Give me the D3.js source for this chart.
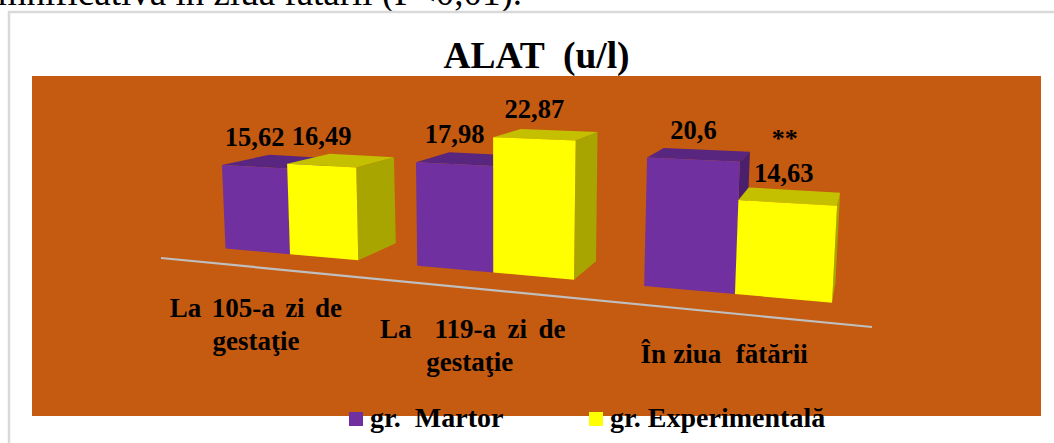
<!DOCTYPE html>
<html lang="ro">
<head>
<meta charset="utf-8">
<title>ALAT (u/l)</title>
<script src="https://cdn.jsdelivr.net/npm/d3@7/dist/d3.min.js"></script>
<style>
  html, body { margin: 0; padding: 0; background: #fff; overflow: hidden; }
  svg { display: block; font-family: "Liberation Serif", serif; }
  text { white-space: pre; fill: #000; }
</style>
</head>
<body>
<svg id="chart" width="1054" height="443"></svg>
<script>
// Values read per gestation moment, one array per group.
const categories = ["La 105-a zi de", "La  119-a zi de", "În ziua  fătării"];
const categoryLines = [["La 105-a zi de", "gestaţie"], ["La  119-a zi de", "gestaţie"], ["În ziua  fătării"]];
const seriesNames = ["gr.  Martor", "gr. Experimentală"];
const martor = [15.62, 17.98, 20.6];
const experimentala = [16.49, 22.87, 14.63];
const valueLabels = [["15,62", "17,98", "20,6"], ["16,49", "22,87", "14,63"]];
const significance = ["", "", "**"];

const frontColors = ["#7030A0", "#FFFF00"];
const topColors = ["#58257F", "#C4C000"];
const sideColors = ["#4A1F6C", "#A8A400"];
const categoryWordSpacing = [3.7, 4.75, 0.5];

const svg = d3.select("#chart");

// Running sentence above the chart frame, cut off by the page edge.
svg.append("text").attr("x", 522).attr("y", 5).attr("text-anchor", "end")
  .attr("font-size", 37).text("semnificativă în ziua fătării (P<0,01).");

// Chart frame and plot wall.
svg.append("path").attr("d", "M9,443V12H1054").attr("fill", "#fff")
  .attr("stroke", "#D9D9D9").attr("stroke-width", 2.5);
svg.append("rect").attr("x", 32).attr("y", 76).attr("width", 1009).attr("height", 340)
  .attr("fill", "#C55A11");

svg.append("text").attr("x", 536.5).attr("y", 68).attr("text-anchor", "middle")
  .attr("font-size", 37.5).attr("font-weight", "bold").text("ALAT  (u/l)");

// Horizontal position along the floor: bands for the moments, sub-bands for the groups.
const band = d3.scaleBand().domain(categories).range([0, 7.64]).paddingInner(0.2908);
const sub = d3.scaleBand().domain(seriesNames).range([0, band.bandwidth()]);

// Perspective of the floor: receding to the left, falling to the right.
const floorX = u => 225.5 + 62.73 * u / (1 - 0.02747 * u);
const floorY = d3.scaleLinear().domain([225.5, 832]).range([248.5, 302.7]);
const pxPerUnit = d3.scaleLinear().domain([225, 834]).range([5.35, 6.63]);
const lean = d3.scaleLinear().domain([497, 834]).range([0, 0.052]);
const vanish = { x: 880, y: 24, depth: 0.072 };

function front(u, value) {
  const x = floorX(u);
  const h = value * pxPerUnit(x);
  return [x + lean(x) * h, floorY(x) - h];
}
const back = ([x, y]) => [x + (vanish.x - x) * vanish.depth, y + (vanish.y - y) * vanish.depth];
const polygon = d3.line();

// Axis line running in front of the bars.
const axisY = d3.scaleLinear().domain([161, 872]).range([258, 327]);
svg.append("path").attr("d", polygon([161, 872].map(x => [x, axisY(x)])))
  .attr("stroke", "#BFBFBF").attr("stroke-width", 2.2).attr("fill", "none");

const bars = categories.flatMap((c, i) => seriesNames.map((s, j) => ({
  category: c, i, j,
  value: (j === 0 ? martor : experimentala)[i],
  label: valueLabels[j][i],
  u0: band(c) + sub(s),
  u1: band(c) + sub(s) + sub.bandwidth()
})));

// Each bar is a box: right side, top, then front; painted left to right.
const gBars = svg.append("g");
bars.forEach(d => {
  const bl = front(d.u0, 0), br = front(d.u1, 0);
  const tl = front(d.u0, d.value), tr = front(d.u1, d.value);
  const g = gBars.append("g");
  g.append("path").attr("fill", sideColors[d.j])
    .attr("d", polygon([tr, br, back(br), back(tr)]) + "Z");
  g.append("path").attr("fill", topColors[d.j])
    .attr("d", polygon([tl, tr, back(tr), back(tl)]) + "Z");
  g.append("path").attr("fill", frontColors[d.j])
    .attr("d", polygon([tl, tr, br, bl]) + "Z");
});

// Value labels sit above the middle of each front face.
svg.append("g").selectAll("text").data(bars).join("text")
  .attr("text-anchor", "middle").attr("font-size", 26.5).attr("font-weight", "bold")
  .attr("x", d => (front(d.u0, d.value)[0] + front(d.u1, d.value)[0]) / 2 + (d.i === 2 && d.j === 1 ? -4 : 0))
  .attr("y", d => (front(d.u0, d.value)[1] + front(d.u1, d.value)[1]) / 2 - 21)
  .text(d => d.label);

// Significance mark above the experimental group's label.
bars.filter(d => d.j === 1 && significance[d.i]).forEach(d => {
  svg.append("text").attr("text-anchor", "middle").attr("font-size", 26).attr("font-weight", "bold")
    .attr("x", (front(d.u0, d.value)[0] + front(d.u1, d.value)[0]) / 2 - 3)
    .attr("y", 147).text(significance[d.i]);
});

// Category labels follow the slope of the axis.
const labelX = d3.scaleLinear().domain([291, 739]).range([255, 725]);
const labelY = d3.scaleLinear().domain([291, 739]).range([317, 363]);
categories.forEach((c, i) => {
  const cx = (floorX(band(c)) + floorX(band(c) + band.bandwidth())) / 2;
  const t = svg.append("text").attr("text-anchor", "middle").attr("font-size", 27)
    .attr("font-weight", "bold").attr("word-spacing", categoryWordSpacing[i]);
  categoryLines[i].forEach((line, k) => {
    t.append("tspan").attr("x", labelX(cx) + (i === 1 && k === 0 ? 3 : 0)).attr("y", labelY(cx) + k * 33).text(line);
  });
});

// Legend straddling the lower edge of the wall.
const legendX = d3.scaleOrdinal().domain(seriesNames).range([349, 589]);
const legend = svg.append("g").selectAll("g").data(seriesNames).join("g")
  .attr("transform", d => `translate(${legendX(d)},412)`);
legend.append("rect").attr("width", 14).attr("height", 14).attr("fill", (d, i) => frontColors[i]);
legend.append("text").attr("x", 21).attr("y", 15).attr("font-size", 28)
  .attr("font-weight", "bold").text(d => d);
</script>
</body>
</html>
